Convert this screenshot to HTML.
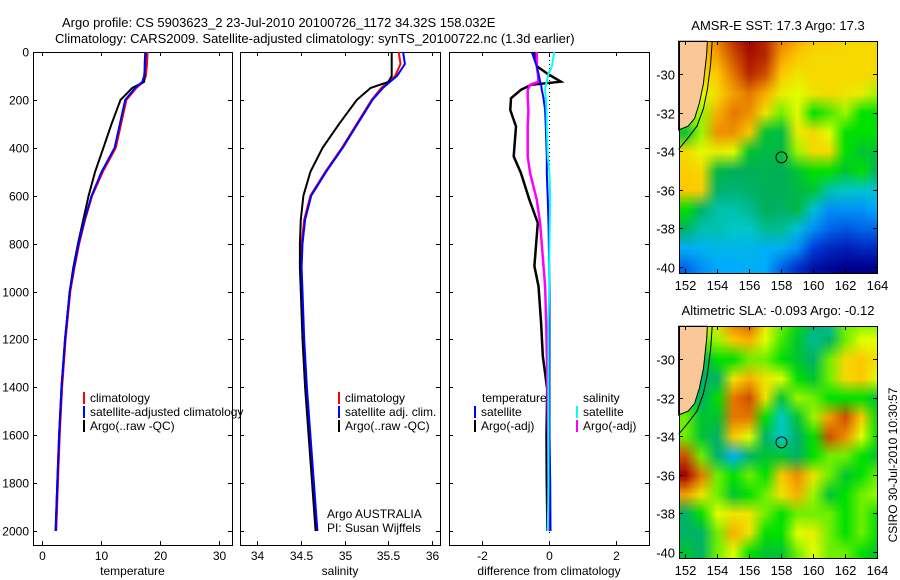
<!DOCTYPE html>
<html><head><meta charset="utf-8">
<style>
html,body{margin:0;padding:0;background:#fff;}
#wrap{position:relative;width:900px;height:580px;overflow:hidden;font-family:"Liberation Sans",sans-serif;}
canvas{position:absolute;}
svg{position:absolute;left:0;top:0;}
text{font-family:"Liberation Sans",sans-serif;font-size:12px;fill:#000;}
</style></head>
<body>
<div id="wrap">
<canvas id="sstMap" width="198" height="232" style="left:679px;top:41px"></canvas>
<canvas id="slaMap" width="198" height="232" style="left:679px;top:326px"></canvas>
<svg id="fig" width="900" height="580"></svg>
</div>
<script>
// ---------- DATA ----------
const depths = [0,50,100,125,150,200,300,400,500,600,700,800,900,1000,1200,1400,1600,1800,2000];
const tempClim = [17.9,17.8,17.6,17.2,16.0,14.3,13.4,12.5,10.3,8.5,7.3,6.3,5.5,4.8,4.0,3.4,3.0,2.7,2.4];
const tempSat  = [17.6,17.5,17.3,17.0,15.8,14.1,13.2,12.3,10.1,8.4,7.2,6.2,5.4,4.7,3.9,3.3,2.9,2.6,2.3];
const tempArgo = [17.5,17.4,17.4,17.3,15.3,13.3,11.8,10.4,9.0,7.9,7.0,6.1,5.3,4.7,3.9,3.3,2.9,2.6,2.3];
const salClim = [35.62,35.64,35.58,35.50,35.42,35.31,35.14,34.97,34.78,34.61,34.54,34.51,34.50,34.51,34.53,34.56,34.60,34.64,34.68];
const salSat  = [35.67,35.69,35.60,35.52,35.44,35.32,35.15,34.98,34.79,34.62,34.55,34.52,34.51,34.52,34.54,34.57,34.61,34.65,34.69];
const salArgo = [35.54,35.54,35.54,35.50,35.30,35.14,34.94,34.75,34.61,34.53,34.50,34.49,34.49,34.50,34.52,34.55,34.59,34.63,34.67];
const diffDepths = [0,60,90,124,137,158,193,242,311,436,506,617,714,894,978,1131,1269,1408,1600,1800,2000];
const dTempArgo = [-0.44,-0.34,-0.04,0.37,-0.52,-0.82,-1.12,-1.14,-0.97,-1.04,-0.82,-0.57,-0.32,-0.42,-0.30,-0.22,-0.17,-0.04,-0.06,-0.05,-0.03];
const dTempSat  = [-0.5,-0.35,-0.3,-0.25,-0.22,-0.2,-0.15,-0.1,-0.08,-0.05,-0.05,-0.02,0,0.02,0.03,0.03,0.03,0.03,0.03,0.05,0.06];
const dSalArgo  = [-0.35,-0.35,-0.32,-0.3,-0.55,-0.62,-0.62,-0.6,-0.62,-0.62,-0.55,-0.35,-0.25,-0.15,-0.1,-0.07,-0.05,-0.03,-0.01,0.0,0.02];
const dSalSat   = [0.17,0.1,0.0,-0.05,-0.08,-0.1,-0.08,-0.06,-0.05,-0.02,0.03,0.05,0.04,0.02,0.02,0.0,0,0,0,0,-0.02];
const depthTicks = [0,200,400,600,800,1000,1200,1400,1600,1800,2000];
const tempTicks = [0,10,20,30];
const salTicks = [34,34.5,35,35.5,36];
const diffTicks = [-2,0,2];
const lonTicks = [152,154,156,158,160,162,164];
const latTicks = [-30,-32,-34,-36,-38,-40];
const gridLons = [152,153,154,155,156,157,158,159,160,161,162,163,164];
const gridLats = [-28,-29,-30,-31,-32,-33,-34,-35,-36,-37,-38,-39,-40];
const sstGrid = [
[.72,.75,.85,.95,1.0,.95,.85,.8,.75,.75,.72,.72,.72],
[.72,.75,.8,.9,.98,.95,.8,.75,.72,.72,.72,.72,.72],
[.7,.72,.75,.85,.95,.9,.75,.7,.72,.72,.72,.72,.72],
[.66,.65,.72,.8,.85,.78,.68,.65,.7,.72,.7,.68,.62],
[.62,.62,.78,.85,.82,.7,.6,.66,.55,.58,.62,.55,.55],
[.5,.62,.82,.82,.75,.5,.48,.68,.72,.65,.55,.55,.55],
[.72,.66,.68,.66,.5,.48,.48,.62,.72,.72,.55,.5,.5],
[.74,.72,.48,.46,.46,.47,.46,.5,.55,.55,.5,.55,.45],
[.75,.74,.45,.44,.45,.46,.46,.48,.5,.4,.38,.36,.36],
[.55,.45,.4,.4,.42,.46,.45,.48,.35,.25,.25,.25,.28],
[.45,.4,.4,.38,.38,.42,.42,.35,.25,.2,.18,.2,.2],
[.3,.3,.32,.32,.32,.3,.3,.25,.15,.1,.08,.1,.1],
[.2,.25,.28,.28,.3,.28,.2,.12,.05,.02,0,0,0]];
const slaGrid = [
[.6,.65,.7,.85,.9,.7,.6,.55,.45,.4,.6,.6,.6],
[.55,.6,.62,.75,.78,.65,.58,.5,.42,.45,.6,.65,.65],
[.5,.45,.55,.55,.6,.6,.55,.5,.45,.6,.72,.75,.7],
[.5,.45,.45,.7,.78,.7,.65,.55,.5,.6,.72,.75,.65],
[.55,.45,.55,.85,.9,.7,.5,.62,.6,.55,.55,.55,.5],
[.6,.5,.5,.85,.85,.55,.38,.5,.62,.8,.9,.75,.55],
[.6,.5,.45,.75,.65,.45,.38,.45,.55,.9,.82,.65,.55],
[.9,.6,.45,.3,.45,.5,.5,.45,.55,.6,.6,.55,.5],
[1.0,.85,.6,.55,.6,.55,.75,.82,.7,.6,.5,.55,.6],
[.8,.7,.6,.5,.55,.6,.7,.78,.62,.5,.55,.6,.62],
[.45,.55,.65,.7,.7,.6,.55,.6,.6,.6,.55,.6,.55],
[.45,.45,.6,.78,.7,.55,.55,.65,.68,.6,.55,.6,.55],
[.5,.45,.6,.65,.55,.5,.5,.6,.65,.6,.6,.55,.5]];
const argoLon = [158.03];
const argoLat = [-34.32];
const landLon = [151.6,153.4,153.35,153.15,152.9,152.6,152.2,151.6];
const landLat = [-28.3,-28.3,-29,-30.5,-31.5,-32.3,-32.7,-32.9];
const shelfLon = [153.7,153.6,153.4,153.15,152.75,152.2,151.6];
const shelfLat = [-28.3,-29.5,-30.8,-31.8,-32.7,-33.3,-33.9];

// ---------- HELPERS ----------
const NS = "http://www.w3.org/2000/svg";
const svg = document.getElementById('fig');
function mk(tag, attrs, parent){const e=document.createElementNS(NS,tag);for(const k in attrs)e.setAttribute(k,attrs[k]);(parent||svg).appendChild(e);return e;}
function txt(x,y,s,anchor,size){const t=mk('text',{x:x,y:y,'text-anchor':anchor||'start'});if(size)t.style.fontSize=size+'px';t.textContent=s;return t;}
const Y0=52, YK=0.2395;
function yD(d){return Y0+d*YK;}
const panels=[
 {x0:33,x1:232,ax:v=>42+v*5.9,ticks:tempTicks,label:'temperature',name:'temperature-panel'},
 {x0:240,x1:440,ax:v=>257+(v-34)*87.5,ticks:salTicks,label:'salinity',name:'salinity-panel'},
 {x0:449,x1:649,ax:v=>548.5+v*33.5,ticks:diffTicks,label:'difference from climatology',name:'difference-panel'}];
const TOP=52, BOT=545;

let t=txt(62,27,'Argo profile: CS 5903623_2 23-Jul-2010 20100726_1172 34.32S 158.032E','start',13);


t=txt(55,43,'Climatology: CARS2009. Satellite-adjusted climatology: synTS_20100722.nc (1.3d earlier)','start',13);



panels.forEach((p,pi)=>{
  const g=mk('g',{});
  
  
  mk('rect',{x:p.x0+.5,y:TOP+.5,width:p.x1-p.x0,height:BOT-TOP,fill:'none',stroke:'#000','stroke-width':1},g);
  depthTicks.forEach(d=>{
    const y=Math.round(yD(d))+.5;
    mk('line',{x1:p.x0,x2:p.x0+4,y1:y,y2:y,stroke:'#000'},g);
    mk('line',{x1:p.x1-4,x2:p.x1,y1:y,y2:y,stroke:'#000'},g);
    if(pi===0){const tl=txt(29,y+4,String(d),'end');
      
      }
  });
  p.ticks.forEach(v=>{
    const x=Math.round(p.ax(v))+.5;
    mk('line',{x1:x,x2:x,y1:TOP,y2:TOP+4,stroke:'#000'},g);
    mk('line',{x1:x,x2:x,y1:BOT-4,y2:BOT,stroke:'#000'},g);
    const tl=txt(x,560,String(v),'middle');
    
    
  });
  const al=txt((p.x0+p.x1)/2,575,p.label,'middle');
  
  
});

function line(ds,vals,ax,color,name,w){
  const pts=ds.map((d,i)=>ax(vals[i]).toFixed(1)+','+yD(d).toFixed(1)).join(' ');
  const l=mk('polyline',{points:pts,fill:'none',stroke:color,'stroke-width':w||2});
  
  
}
const P=panels;
line(depths,tempClim,P[0].ax,'#ff0000','temp-climatology-line');
line(depths,tempArgo,P[0].ax,'#000','temp-argo-line');
line(depths,tempSat,P[0].ax,'#0000ff','temp-satellite-line');
line(depths,salClim,P[1].ax,'#ff0000','sal-climatology-line');
line(depths,salArgo,P[1].ax,'#000','sal-argo-line');
line(depths,salSat,P[1].ax,'#0000ff','sal-satellite-line');
const zx=Math.round(P[2].ax(0))+.5;
mk('line',{x1:zx,x2:zx,y1:TOP,y2:BOT-10,stroke:'#000','stroke-dasharray':'1,3'});
line(diffDepths,dTempArgo,P[2].ax,'#000','diff-temp-argo-line',2.5);
line(diffDepths,dSalArgo,P[2].ax,'#ff00ff','diff-sal-argo-line',2.5);
line(diffDepths,dTempSat,P[2].ax,'#0000ff','diff-temp-satellite-line');
line(diffDepths,dSalSat,P[2].ax,'#00ffff','diff-sal-satellite-line');

function legend(x,y,color,label,name){
  const g=mk('g',{});
  
  
  if(color)mk('rect',{x:x,y:y-10,width:2,height:12,fill:color},g);
  const tt=mk('text',{x:x+7,y:y},g);tt.textContent=label;
}
legend(83,402,'#ff0000','climatology','legend-climatology');
legend(83,416,'#0000ff','satellite-adjusted climatology','legend-satellite-adjusted');
legend(83,430,'#000','Argo(..raw -QC)','legend-argo-raw');
legend(338,402,'#ff0000','climatology','legend-sal-climatology');
legend(338,416,'#0000ff','satellite adj. clim.','legend-sal-satellite');
legend(338,430,'#000','Argo(..raw -QC)','legend-sal-argo');
legend(475,402,null,'temperature','legend-temperature-header');
legend(474,416,'#0000ff','satellite','legend-diff-temp-satellite');
legend(474,430,'#000','Argo(-adj)','legend-diff-temp-argo');
legend(576,402,null,'salinity','legend-salinity-header');
legend(576,416,'#00ffff','satellite','legend-diff-sal-satellite');
legend(576,430,'#ff00ff','Argo(-adj)','legend-diff-sal-argo');
t=txt(327,518,'Argo AUSTRALIA');
t=txt(327,532,'PI: Susan Wijffels');

// ---------- MAPS ----------
const MX0=679,MX1=877,LON0=151.625,LONK=16,LAT0=-28.29,LATK=19.3;
function cmap(v){
  const stops=[[0,[0,0,140]],[0.15,[0,60,220]],[0.28,[0,170,255]],[0.38,[0,200,200]],[0.46,[0,175,90]],[0.55,[0,225,0]],[0.65,[225,255,0]],[0.75,[255,200,0]],[0.85,[230,120,0]],[1,[160,0,0]]];
  v=Math.max(0,Math.min(1,v));
  for(let i=1;i<stops.length;i++){if(v<=stops[i][0]){const a=stops[i-1],b=stops[i],f=(v-a[0])/(b[0]-a[0]);return a[1].map((c,k)=>Math.round(c+(b[1][k]-c)*f));}}
  return stops[stops.length-1][1];
}
function drawMap(id,grid){
  const c=document.getElementById(id),ctx=c.getContext('2d');
  const s=document.createElement('canvas');s.width=gridLons.length;s.height=gridLats.length;
  const sc=s.getContext('2d'),img=sc.createImageData(s.width,s.height);
  grid.forEach((row,j)=>row.forEach((v,i)=>{const col=cmap(v),k=(j*s.width+i)*4;img.data[k]=col[0];img.data[k+1]=col[1];img.data[k+2]=col[2];img.data[k+3]=255;}));
  sc.putImageData(img,0,0);
  ctx.imageSmoothingEnabled=true;
  const x=(gridLons[0]-0.5-LON0)*LONK, y=(LAT0-(gridLats[0]+0.5))*LATK;
  ctx.drawImage(s,x,y,gridLons.length*LONK,gridLats.length*LATK);
}
drawMap('sstMap',sstGrid);
drawMap('slaMap',slaGrid);

function mapFrame(top,title,name){
  const g=mk('g',{});
  
  
  const mx=l=>MX0+(l-LON0)*LONK, my=l=>top+(LAT0-l)*LATK;
  const land=landLon.map((l,i)=>mx(l).toFixed(1)+','+my(landLat[i]).toFixed(1)).join(' ');
  const lp=mk('polygon',{points:land,fill:'#f9c896',stroke:'#000','stroke-width':1},g);
  
  
  const sh=shelfLon.map((l,i)=>mx(l).toFixed(1)+','+my(shelfLat[i]).toFixed(1)).join(' ');
  mk('polyline',{points:sh,fill:'none',stroke:'#000','stroke-width':1},g);
  argoLon.forEach((l,i)=>{const c=mk('circle',{cx:mx(l),cy:my(argoLat[i]),r:5.5,fill:'none',stroke:'#000','stroke-width':1},g);
    
    });
  const h=232;
  mk('rect',{x:MX0+.5,y:top+.5,width:MX1-MX0,height:h,fill:'none',stroke:'#000'},g);
  lonTicks.forEach(l=>{const x=Math.round(mx(l))+.5;
    mk('line',{x1:x,x2:x,y1:top,y2:top+4,stroke:'#000'},g);
    mk('line',{x1:x,x2:x,y1:top+h-4,y2:top+h,stroke:'#000'},g);
    const tl=txt(x,top+h+17,String(l),'middle',13);
    
    });
  latTicks.forEach(l=>{const y=Math.round(my(l))+.5;
    mk('line',{x1:MX0,x2:MX0+4,y1:y,y2:y,stroke:'#000'},g);
    mk('line',{x1:MX1-4,x2:MX1,y1:y,y2:y,stroke:'#000'},g);
    const tl=txt(675,y+5,String(l),'end',13);
    
    });
  const tt=txt(778,top-11,title,'middle',13);
  
  
}
mapFrame(41,'AMSR-E SST: 17.3 Argo: 17.3','sst-map');
mapFrame(326,'Altimetric SLA: -0.093 Argo: -0.12','sla-map');
t=txt(0,0,'CSIRO 30-Jul-2010 10:30:57','middle',12);
t.setAttribute('transform','translate(897,465) rotate(-90)');


</script>
</body></html>
